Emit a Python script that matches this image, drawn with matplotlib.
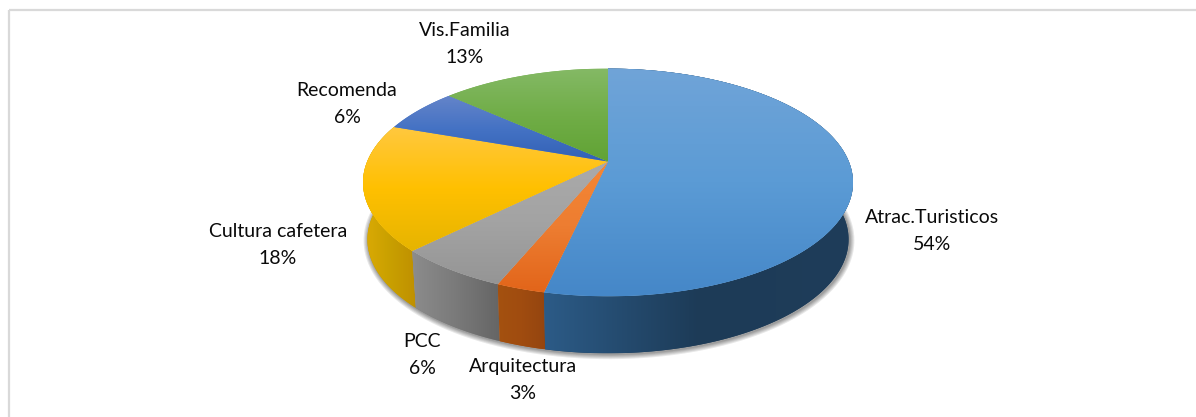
# Grafico de torta 3D con perspectiva
import numpy as np
import matplotlib
matplotlib.use('Agg')
import matplotlib.pyplot as plt
from matplotlib.colors import LinearSegmentedColormap
from matplotlib.patches import Polygon

plt.rcParams['font.family'] = ['Lato', 'DejaVu Sans']

# Datos
categorias = ['Atrac.Turisticos', 'Arquitectura', 'PCC', 'Cultura cafetera', 'Recomenda', 'Vis.Familia']
valores = [53.5, 2.7, 6.3, 17.9, 6.3, 13.3]
etiquetas = ['54%', '3%', '6%', '18%', '6%', '13%']

# Colores (arriba a abajo en la cara, izquierda a derecha en el lateral)
colores_cara = [
    ['#70a4d8', '#5b9bd5', '#4587c8'],
    ['#f58735', '#ed7d31', '#e2651a'],
    ['#aaaaaa', '#a3a3a3', '#959595'],
    ['#ffc83f', '#ffc000', '#e6b400'],
    ['#6484c9', '#4472c4', '#3261b6'],
    ['#84b965', '#70ad47', '#61a334'],
]
colores_lado = [
    ['#2c5b87', '#1d3b57', '#1f3d5a'],
    ['#a4510f', '#a04c10', '#94450f'],
    ['#8c8c8c', '#7a7a7a', '#656565'],
    ['#dcab05', '#c9a000', '#bf9000'],
]

# Posicion de las etiquetas en pixeles
pos_etiquetas = [(932, 231), (523, 380), (422, 355), (278, 245), (347, 104), (465, 44)]

# Geometria de la torta
cx, cy = 608, 161.5
k = 0.184
a, c = 110, 240.8
profundidad = 57
encoge = 0.982


def proyectar(frac):
    t = 2 * np.pi * np.asarray(frac)
    v = -np.cos(t)
    d = 1 - k * v
    return cx + c * np.sin(t) / d, cy + a * v / d


def relleno(ax, pts, stops, vertical):
    # Degradado recortado con el poligono
    cmap = LinearSegmentedColormap.from_list('g', stops)
    x0, y0 = pts.min(axis=0)
    x1, y1 = pts.max(axis=0)
    g = np.linspace(0, 1, 256)
    g = g[:, None] if vertical else g[None, :]
    ax.add_patch(Polygon(pts, closed=True, facecolor=stops[1], edgecolor='none', zorder=3))
    im = ax.imshow(g, cmap=cmap, vmin=0, vmax=1, extent=(x0, x1, y1, y0),
                   aspect='auto', interpolation='bilinear', zorder=3)
    pol = Polygon(pts, closed=True, transform=ax.transData)
    im.set_clip_path(pol)


fig = plt.figure(figsize=(11.96, 4.17), dpi=100)
ax = fig.add_axes([0, 0, 1, 1])

# Marco gris
ax.plot([9, 9], [417, 10], color='#d9d9d9', lw=1.6, solid_capstyle='butt')
ax.plot([9, 1196], [10, 10], color='#d9d9d9', lw=1.6, solid_capstyle='butt')

fin = np.cumsum(valores) / sum(valores)
ini = np.r_[0, fin[:-1]]

# Sombra (solo el borde inferior)
xs, ys = proyectar(np.linspace(0.21, 0.79, 300))
xs = cx + (xs - cx) * encoge
for lw in [7, 5.5, 4, 2.5, 1.2]:
    ax.plot(xs + 1, ys + profundidad + 1, color='black', alpha=0.09, lw=lw, zorder=2)

# Laterales
for i in [3, 2, 1, 0]:
    xr, yr = proyectar(np.linspace(ini[i], fin[i], 200))
    xb = cx + (xr - cx) * encoge
    pts = np.r_[np.c_[xr, yr], np.c_[xb, yr + profundidad][::-1]]
    relleno(ax, pts, colores_lado[i], False)

# Caras superiores
for i in range(len(valores)):
    xr, yr = proyectar(np.linspace(ini[i], fin[i], 200))
    pts = np.r_[[[cx, cy]], np.c_[xr, yr]]
    relleno(ax, pts, colores_cara[i], True)

# Etiquetas
for nombre, etiqueta, (x, y) in zip(categorias, etiquetas, pos_etiquetas):
    ax.text(x, y, nombre + '\n' + etiqueta, ha='center', va='center', fontsize=14,
            color='#0a0a0a', linespacing=1.7, zorder=5)

ax.set_xlim(0, 1196)
ax.set_ylim(417, 0)
ax.axis('off')
fig.savefig('out.png', dpi=100, facecolor='white')
